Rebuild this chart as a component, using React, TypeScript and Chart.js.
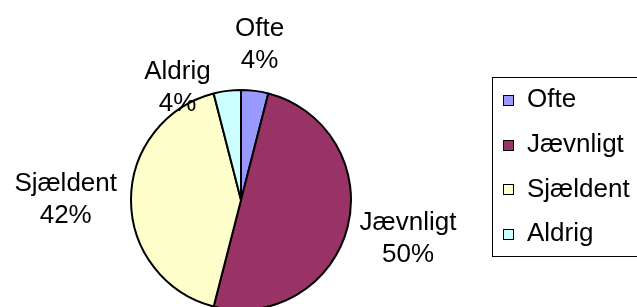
import React, { useEffect, useRef } from 'react';
import { Chart, registerables } from 'chart.js';

Chart.register(...registerables);

const categories: string[] = ['Ofte', 'Jævnligt', 'Sjældent', 'Aldrig'];
const values: number[] = [4, 50, 42, 4];
const colors: string[] = ['#9999FF', '#993366', '#FFFFCC', '#CCFFFF'];

const FONT = '"Liberation Sans", Arial, Helvetica, sans-serif';
const FONT_SIZE = 26;
const LINE_H = 32;

type Box = { cx: number; cy: number; l: number; r: number; t: number; b: number };

const pieLabels = {
  id: 'pieLabels',
  afterDatasetsDraw(chart: any) {
    const ctx = chart.ctx as CanvasRenderingContext2D;
    const meta = chart.getDatasetMeta(0);
    const data = chart.data.datasets[0].data as number[];
    const total = data.reduce((a, b) => a + b, 0);
    const pad = 14;
    const inset = -13;
    const margin = 24;
    ctx.save();
    ctx.font = `${FONT_SIZE}px ${FONT}`;
    ctx.fillStyle = '#000';
    ctx.textAlign = 'center';
    ctx.textBaseline = 'middle';
    const placed: Box[] = [];
    meta.data.forEach((arc: any, i: number) => {
      const { x, y, startAngle, endAngle, outerRadius } = arc.getProps(
        ['x', 'y', 'startAngle', 'endAngle', 'outerRadius'],
        true
      );
      const lines = [String(chart.data.labels[i]), Math.round((data[i] / total) * 100) + '%'];
      const w = Math.max(...lines.map((l) => ctx.measureText(l).width));
      const h = LINE_H * lines.length;
      const makeBox = (ang: number, p: number): Box => {
        const dx = Math.cos(ang);
        const dy = Math.sin(ang);
        const R = outerRadius + p;
        const cx = x + R * dx + (dx * w) / 2;
        const cy = y + R * dy + (dy * h) / 2;
        return { cx, cy, l: cx - w / 2, r: cx + w / 2, t: cy - h / 2, b: cy + h / 2 };
      };
      const hits = (bx: Box) =>
        placed.find(
          (o) => bx.l < o.r + margin && bx.r > o.l - margin && bx.t < o.b && bx.b > o.t
        );
      let ang = (startAngle + endAngle) / 2;
      let box = makeBox(ang, pad);
      const other = hits(box);
      if (other) {
        const step = ((box.cx < other.cx ? -1 : 1) * Math.PI) / 180;
        box = makeBox(ang, inset);
        let n = 0;
        while (hits(box) && n < 120) {
          ang += step;
          box = makeBox(ang, inset);
          n++;
        }
      }
      placed.push(box);
      lines.forEach((line, k) => {
        ctx.fillText(line, box.cx, box.t + LINE_H / 2 + k * LINE_H);
      });
    });
    ctx.restore();
  },
};

const boxLegend = {
  id: 'boxLegend',
  afterDraw(chart: any) {
    const ctx = chart.ctx as CanvasRenderingContext2D;
    const left = 492.5;
    const top = 77.5;
    const height = 179;
    const firstY = 100;
    const gap = 44.7;
    ctx.save();
    ctx.strokeStyle = '#000';
    ctx.lineWidth = 1;
    ctx.strokeRect(left, top, 200, height);
    ctx.font = `${FONT_SIZE}px ${FONT}`;
    ctx.textAlign = 'left';
    ctx.textBaseline = 'middle';
    const bg = chart.data.datasets[0].backgroundColor as string[];
    (chart.data.labels as string[]).forEach((lab, i) => {
      const cy = firstY + i * gap;
      ctx.fillStyle = bg[i];
      ctx.fillRect(503, Math.round(cy - 5), 10, 10);
      ctx.strokeStyle = '#000';
      ctx.lineWidth = 1;
      ctx.strokeRect(503.5, Math.round(cy - 5) + 0.5, 10, 10);
      ctx.fillStyle = '#000';
      ctx.fillText(lab, 527, cy);
    });
    ctx.restore();
  },
};

export default function App() {
  const ref = useRef<HTMLCanvasElement | null>(null);
  useEffect(() => {
    if (!ref.current) return;
    const chart = new Chart(ref.current, {
      type: 'pie',
      data: {
        labels: categories,
        datasets: [
          {
            data: values,
            backgroundColor: colors,
            borderColor: '#000',
            borderWidth: 2,
            radius: 110,
          } as any,
        ],
      },
      options: {
        responsive: false,
        animation: false,
        layout: { padding: { top: 93, bottom: 0, left: 0, right: 155 } },
        plugins: {
          legend: { display: false },
          tooltip: { enabled: false },
        },
      },
      plugins: [pieLabels, boxLegend],
    });
    return () => chart.destroy();
  }, []);
  return (
    <div style={{ position: 'fixed', left: 0, top: 0, width: 637, height: 307, background: '#fff' }}>
      <canvas ref={ref} width={637} height={307} style={{ display: 'block' }} />
    </div>
  );
}
